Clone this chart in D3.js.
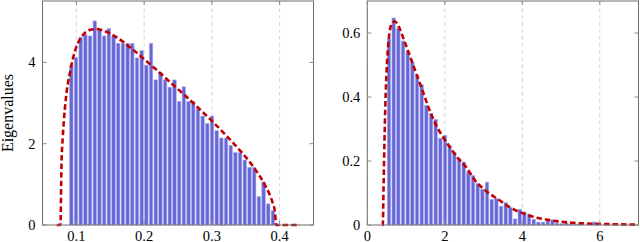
<!DOCTYPE html>
<html><head><meta charset="utf-8">
<script src="https://cdn.jsdelivr.net/npm/d3@7"></script>
<style>body{margin:0;background:#fff;overflow:hidden} text{font-family:"Liberation Serif","Times New Roman",serif;fill:#000}</style>
</head><body><svg id="c" width="640" height="242"></svg>
<script>
// ---------- data: left panel ----------
const leftBinStart = 0.0891;
const leftBinWidth = 0.00692;
const leftBars = [3.93,4.12,4.62,4.68,4.65,5.02,4.82,4.65,4.83,4.65,
                  4.47,4.47,4.47,4.47,4.11,4.29,3.93,4.47,3.57,3.75,
                  3.57,3.39,3.57,3.04,3.40,3.04,3.04,2.86,2.68,2.50,
                  2.68,2.32,2.14,2.14,1.96,1.78,1.78,1.60,1.42,1.42,
                  0.70,1.06,0.52,0.35];
const leftCurveX = [0.071,0.0765,0.078,0.080,0.083,0.086,0.090,0.095,0.100,0.110,0.120,0.130,0.140,0.150,0.160,0.180,0.200,0.220,0.240,0.260,0.280,0.300,0.320,0.340,0.360,0.370,0.380,0.385,0.390,0.393,0.395,0.430];
const leftCurveY = [0,0,1.47,2.18,2.86,3.32,3.70,4.10,4.38,4.68,4.80,4.82,4.78,4.71,4.61,4.36,4.08,3.79,3.49,3.19,2.88,2.56,2.22,1.86,1.46,1.22,0.93,0.76,0.53,0.34,0,0];
const leftXTicks = [0.1,0.2,0.3,0.4];
const leftYTicks = [0,2,4];

// ---------- data: right panel ----------
const rightBinStart = 0.5;
const rightBinWidth = 0.1205;
const rightBars = [0.582,0.647,0.615,0.575,0.543,0.509,0.468,0.439,0.374,0.348,
                   0.330,0.271,0.280,0.249,0.228,0.207,0.197,0.166,0.155,0.130,
                   0.112,0.134,0.080,0.083,0.059,0.070,0.055,0.019,0.049,0.041,
                   0.034,0.018,0.009,0.009,0.018,0.016,0.006,0.004,0.006,0.003,
                   0.002,0.003,0.000,0.002,0.009];
const rightCurveX = [0.38,0.40,0.42,0.45,0.475,0.51,0.56,0.62,0.715,0.835,0.965,1.094,1.265,1.437,1.61,1.78,1.953,2.126,2.297,2.555,2.78,3.12,3.38,3.64,3.90,4.24,4.67,5.10,5.53,6.13,7.0];
const rightCurveY = [0,0,0.12,0.30,0.41,0.51,0.588,0.626,0.636,0.614,0.572,0.53,0.473,0.416,0.358,0.311,0.275,0.244,0.215,0.180,0.140,0.101,0.080,0.058,0.042,0.027,0.016,0.009,0.005,0.003,0.001];
const rightXTicks = [0,2,4,6];
const rightYTicks = [0,0.2,0.4,0.6];

const svg = d3.select("#c");
const yTop = 1, yBottom = 225;

function panel(cfg){
  const x = d3.scaleLinear().domain(cfg.xd).range(cfg.xr);
  const y = d3.scaleLinear().domain(cfg.yd).range([yBottom, yTop]);
  const g = svg.append("g");
  // grid
  g.selectAll("line.grid").data(cfg.xt).enter().append("line")
    .attr("x1", d=>x(d)).attr("x2", d=>x(d)).attr("y1", yTop).attr("y2", yBottom)
    .attr("stroke", "#d2d2d2").attr("stroke-width", 0.9).attr("stroke-dasharray", "4,3");
  // bars
  const bars = cfg.bars.map((v,i)=>({x0: cfg.b0 + i*cfg.bw, x1: cfg.b0 + (i+1)*cfg.bw, v}));
  g.selectAll("rect.bar").data(bars).enter().append("rect")
    .attr("x", d=>x(d.x0)+0.6).attr("width", d=>Math.max(0, x(d.x1)-x(d.x0)-1.2))
    .attr("y", d=>y(d.v)).attr("height", d=>yBottom - y(d.v))
    .attr("fill", "#6767d6").attr("stroke", "#adadee").attr("stroke-width", 0.6);
  // curve
  const pts = cfg.cx.map((d,i)=>[d, cfg.cy[i]]);
  g.append("path").datum(pts)
    .attr("d", d3.line().x(d=>x(d[0])).y(d=>y(d[1])).curve(d3.curveMonotoneX))
    .attr("fill", "none").attr("stroke", "#c00000").attr("stroke-width", 2.6)
    .attr("stroke-dasharray", "5.5,3");
  // frame
  g.append("rect").attr("x", cfg.xr[0]).attr("y", yTop).attr("width", cfg.xr[1]-cfg.xr[0]).attr("height", yBottom-yTop)
    .attr("fill","none").attr("stroke","#6e6e6e").attr("stroke-width",1);
  // ticks (inside, both sides)
  const tk = 4;
  cfg.xt.forEach(t=>{
    g.append("line").attr("x1",x(t)).attr("x2",x(t)).attr("y1",yBottom).attr("y2",yBottom-tk).attr("stroke","#8a8a8a");
    g.append("line").attr("x1",x(t)).attr("x2",x(t)).attr("y1",yTop).attr("y2",yTop+tk).attr("stroke","#8a8a8a");
  });
  cfg.yt.forEach(t=>{
    g.append("line").attr("x1",cfg.xr[0]).attr("x2",cfg.xr[0]+tk).attr("y1",y(t)).attr("y2",y(t)).attr("stroke","#8a8a8a");
    g.append("line").attr("x1",cfg.xr[1]).attr("x2",cfg.xr[1]-tk).attr("y1",y(t)).attr("y2",y(t)).attr("stroke","#8a8a8a");
  });
  // labels
  g.selectAll("text.xt").data(cfg.xt).enter().append("text")
    .attr("x", d=>x(d)).attr("y", 240.5).attr("text-anchor","middle")
    .attr("font-size", 14.5).text(d=>String(d));
  g.selectAll("text.yt").data(cfg.yt).enter().append("text")
    .attr("x", cfg.xr[0]-7).attr("y", d=>y(d)+5).attr("text-anchor","end")
    .attr("font-size", 14.5).text(d=>String(d));
}

panel({xd:[0.05,0.45], xr:[42.5,313.5], yd:[0,5.51], xt:leftXTicks, yt:leftYTicks,
       bars:leftBars, b0:leftBinStart, bw:leftBinWidth, cx:leftCurveX, cy:leftCurveY});
panel({xd:[0,7], xr:[367.3,638.5], yd:[0,0.7], xt:rightXTicks, yt:rightYTicks,
       bars:rightBars, b0:rightBinStart, bw:rightBinWidth, cx:rightCurveX, cy:rightCurveY});

svg.append("text").attr("transform","translate(12.5,113) rotate(-90)")
  .attr("text-anchor","middle").attr("font-size",16).text("Eigenvalues");
</script></body></html>
